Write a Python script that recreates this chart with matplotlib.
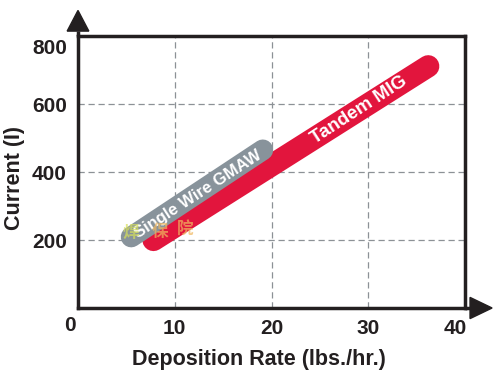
import matplotlib.pyplot as plt
from matplotlib.patches import Polygon
from matplotlib.transforms import ScaledTranslation

plt.rcParams['font.family'] = ['Liberation Sans', 'Noto Sans CJK SC', 'DejaVu Sans']

# band end points (deposition rate, current)
rate_single = [5.5, 19.1]
current_single = [209, 465]
rate_tandem = [7.8, 36.2]
current_tandem = [200, 711]

xticks = [10, 20, 30, 40]
yticks = [200, 400, 600, 800]

txt = '#231f20'
red = '#e2153d'
grey = '#88939b'

fig = plt.figure(figsize=(4.96, 3.77), dpi=100)
ax = fig.add_axes([78/496, 1-308/377, 387/496, 272/377])
ax.set_xlim(0, 40)
ax.set_ylim(0, 800)

# grid
for x in xticks[:-1]:
    ax.axvline(x, color='#8c9196', lw=0.9, dashes=(5, 3), zorder=1)
for y in yticks[:-1]:
    ax.axhline(y, color='#8c9196', lw=0.9, dashes=(5, 3), zorder=1)

# bands
ax.plot(rate_tandem, current_tandem, color=red, lw=16, solid_capstyle='round', zorder=3)
ax.plot(rate_single, current_single, color=grey, lw=15, solid_capstyle='round', zorder=4)

ax.text(29.0, 582, 'Tandem MIG', color='white', fontsize=13.5, fontweight='bold',
        rotation=33, ha='center', va='center', zorder=5)
ax.text(12.4, 334, 'Single Wire GMAW', color='white', fontsize=12, fontweight='bold',
        rotation=33, ha='center', va='center', zorder=5)

# watermark
ax.text(5.5, 222, '焊', color='#d6df5a', alpha=0.7, fontsize=12, fontweight='bold',
        ha='center', va='center', zorder=6, family=['Noto Sans CJK SC'])
ax.text(8.5, 225, '保', color='#f0b860', alpha=0.7, fontsize=12, fontweight='bold',
        ha='center', va='center', zorder=6, family=['Noto Sans CJK SC'])
ax.text(11.1, 230, '院', color='#f0b860', alpha=0.7, fontsize=12, fontweight='bold',
        ha='center', va='center', zorder=6, family=['Noto Sans CJK SC'])

# frame
for s in ax.spines.values():
    s.set_linewidth(2.5)
    s.set_color(txt)
ax.plot([0, 0], [1, 1.02], transform=ax.transAxes, color=txt, lw=2.5, clip_on=False,
        solid_capstyle='butt')
ax.plot([1, 1.015], [0, 0], transform=ax.transAxes, color=txt, lw=2.5, clip_on=False,
        solid_capstyle='butt')
ax.add_patch(Polygon([[-0.028, 1.018], [0.028, 1.018], [0, 1.094]], closed=True,
                     transform=ax.transAxes, color=txt, clip_on=False))
ax.add_patch(Polygon([[1.013, -0.039], [1.013, 0.039], [1.07, 0]], closed=True,
                     transform=ax.transAxes, color=txt, clip_on=False))

ax.set_xticks(xticks)
ax.set_yticks(yticks)
ax.tick_params(length=0, labelsize=15, labelcolor=txt, pad=8)
for lab in ax.get_xticklabels() + ax.get_yticklabels():
    lab.set_fontweight('bold')
lab40 = ax.get_xticklabels()[-1]
lab40.set_transform(lab40.get_transform() + ScaledTranslation(-0.1, 0, fig.dpi_scale_trans))
lab800 = ax.get_yticklabels()[-1]
lab800.set_transform(lab800.get_transform() + ScaledTranslation(0, -0.1, fig.dpi_scale_trans))
ax.text(-0.02, -0.03, '0', transform=ax.transAxes, ha='center', va='top',
        fontsize=15, fontweight='bold', color=txt)

fig.text(259/496, 1-359/377, 'Deposition Rate (lbs./hr.)', ha='center', va='center',
         fontsize=15.5, fontweight='bold', color=txt)
fig.text(15/496, 1-178/377, 'Current (I)', ha='center', va='center', rotation=90,
         fontsize=15.5, fontweight='bold', color=txt)

fig.savefig('out.png', dpi=100)
